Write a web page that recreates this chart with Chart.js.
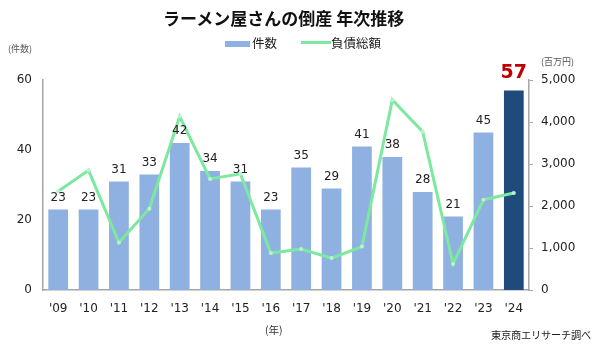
<!DOCTYPE html>
<html><head><meta charset="utf-8">
<script src="https://cdn.jsdelivr.net/npm/chart.js@4.4.1/dist/chart.umd.min.js"></script>
<style>
html,body{margin:0;padding:0;background:#fff;}
#wrap{position:relative;width:600px;height:351px;overflow:hidden;font-family:"Noto Sans CJK JP","Noto Sans",sans-serif;}
canvas{position:absolute;left:0;top:0;}
.t{position:absolute;white-space:nowrap;color:#222;line-height:1;}
</style></head>
<body><div id="wrap">
<canvas id="c" width="600" height="351"></canvas>
<div class="t" id="title" style="left:163px;top:9px;font-size:17px;font-weight:bold;color:#111;">ラーメン屋さんの倒産 年次推移</div>
<div class="t" style="left:225px;top:41px;width:25px;height:6px;background:#8EB1E1;"></div>
<div class="t" style="left:252px;top:37px;font-size:12.5px;">件数</div>
<div class="t" style="left:301px;top:41px;width:30px;height:3px;background:#7DE8A0;"></div>
<div class="t" style="left:331px;top:37px;font-size:12.5px;">負債総額</div>
<div class="t" style="left:8px;top:44px;font-size:9px;color:#555;">(件数)</div>
<div class="t" style="left:541px;top:57px;font-size:9px;color:#555;">(百万円)</div>
<div class="t" style="left:265px;top:325px;font-size:10.5px;color:#333;">(年)</div>
<div class="t" style="left:491px;top:330px;font-size:10.2px;color:#222;letter-spacing:-0.2px;">東京商エリサーチ調べ</div>
</div>
<script>
const years = ["'09","'10","'11","'12","'13","'14","'15","'16","'17","'18","'19","'20","'21","'22","'23","'24"];
const counts = [23,23,31,33,42,34,31,23,35,29,41,38,28,21,45,57];
const debts = [2350,2850,1130,1935,4130,2645,2765,880,975,760,1035,4525,3770,620,2150,2310];
const countTicks = [0,20,40,60];
const debtTicks = [0,1000,2000,3000,4000,5000];

const barColors = counts.map((v,i)=> i===counts.length-1 ? '#1F4A7C' : '#8EB1E1');

const labelPlugin = {
  id:'barLabels',
  afterDatasetsDraw(chart){
    const ctx = chart.ctx;
    const meta = chart.getDatasetMeta(1);
    ctx.save();
    ctx.textAlign='center';
    ctx.textBaseline='alphabetic';
    meta.data.forEach((el,i)=>{
      const last = i===counts.length-1;
      if(last){
        ctx.font='bold 19px "DejaVu Sans", sans-serif';
        ctx.fillStyle='#C00000';
        ctx.fillText(String(counts[i]), el.x, el.y-13);
      } else {
        ctx.font='12px "DejaVu Sans", sans-serif';
        ctx.fillStyle='#222';
        ctx.fillText(String(counts[i]), el.x, el.y-9);
      }
    });
    ctx.restore();
  }
};

new Chart(document.getElementById('c'),{
  data:{
    labels: years,
    datasets:[
      {type:'line', label:'負債総額', data:debts, yAxisID:'y1', borderColor:'#7DE8A0', borderWidth:3,
       pointRadius:2, pointBackgroundColor:'#b9f3cc', pointBorderWidth:0, tension:0, order:0},
      {type:'bar', label:'件数', data:counts, yAxisID:'y', backgroundColor:barColors,
       barPercentage:0.65, categoryPercentage:1.0, order:1}
    ]
  },
  options:{
    responsive:false, animation:false,
    layout:{padding:{top:80,left:0,right:0,bottom:0}},
    plugins:{legend:{display:false}, title:{display:false}, tooltip:{enabled:false}},
    scales:{
      x:{
        grid:{display:false, drawTicks:false},
        border:{display:true, color:'#A6A6A6', width:1.5},
        ticks:{font:{family:'"DejaVu Sans"', size:12}, color:'#222', padding:12, maxRotation:0, autoSkip:false},
        afterFit(s){ s.height = 61; }
      },
      y:{
        position:'left', min:0, max:60,
        afterBuildTicks(s){ s.ticks = countTicks.map(v=>({value:v})); },
        grid:{display:false, drawTicks:false},
        border:{display:true, color:'#A6A6A6', width:1.5},
        ticks:{font:{family:'"DejaVu Sans"', size:12}, color:'#222', padding:11},
        afterFit(s){ s.width = 43; }
      },
      y1:{
        position:'right', min:0, max:5000,
        afterBuildTicks(s){ s.ticks = debtTicks.map(v=>({value:v})); },
        grid:{display:true, drawOnChartArea:false, drawTicks:true, tickLength:4, color:'#A6A6A6'},
        border:{display:true, color:'#A6A6A6', width:1.5},
        ticks:{font:{family:'"DejaVu Sans"', size:12}, color:'#222', padding:8,
          callback:(v)=> Number(v).toLocaleString('en-US')},
        afterFit(s){ s.width = 71; }
      }
    }
  },
  plugins:[labelPlugin]
});
</script>
</body></html>
